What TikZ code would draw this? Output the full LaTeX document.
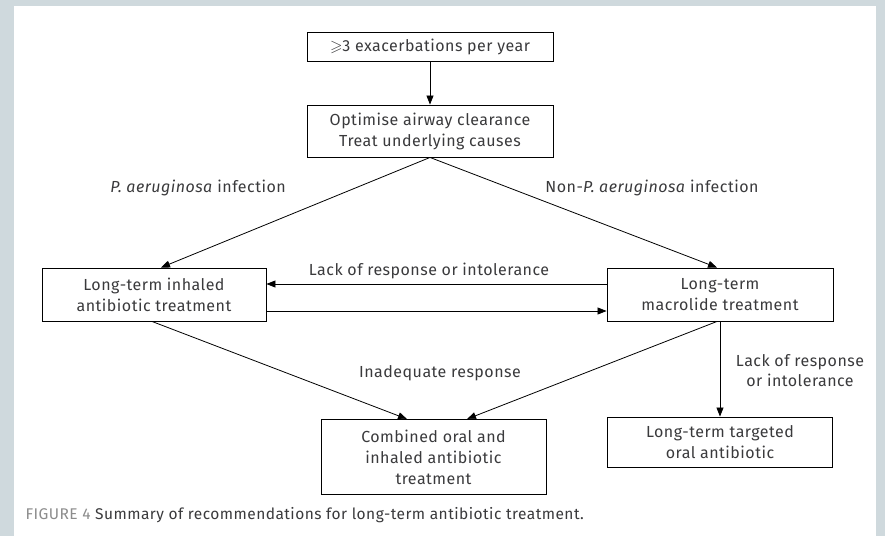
\documentclass[tikz,border=0pt]{standalone}
\usepackage{amssymb}
\usepackage{fontspec}
\setmainfont{Fira Sans}[LetterSpace=3]
\usetikzlibrary{arrows.meta}
\definecolor{panelgrey}{HTML}{CFD9DD}
\definecolor{inkgrey}{HTML}{3A3A3C}
\definecolor{figgrey}{HTML}{8C8C8C}

\begin{document}
\begin{tikzpicture}[x=1pt,y=1pt,
	box/.style={draw=black,line width=0.9pt,fill=white,align=center,inner sep=0pt,text=inkgrey,font=\fontsize{16}{21}\selectfont},
	lbl/.style={text=inkgrey,align=center,font=\fontsize{16}{20}\selectfont},
	arr/.style={line width=0.8pt,-{Triangle[length=9pt,width=7pt]}}]
	\useasboundingbox (0,0) rectangle (885,-536);
	\fill [panelgrey] (0,0) rectangle (885,-536);
	\fill [white] (14,-6) rectangle (876,-536);
	\node [box,minimum width=246,minimum height=29] (freq) at (430,-46.5) {$\geqslant$3 exacerbations per year};
	\node [box,minimum width=246,minimum height=52] (clear) at (430,-131) {Optimise airway clearance\\Treat underlying causes};
	\node [box,minimum width=224,minimum height=53] (inhaled) at (154,-294.5) {Long-term inhaled\\antibiotic treatment};
	\node [box,minimum width=226,minimum height=53] (macro) at (720,-294.5) {Long-term\\macrolide treatment};
	\node [box,minimum width=225,minimum height=75] (combined) at (433.5,-457) {Combined oral and\\inhaled antibiotic\\treatment};
	\node [box,minimum width=225,minimum height=50] (targeted) at (720,-442) {Long-term targeted\\oral antibiotic};
	\node [lbl] (pa) at (198,-188) {\textit{P. aeruginosa} infection};
	\node [lbl] (nonpa) at (652,-188) {Non-\textit{P. aeruginosa} infection};
	\node [lbl] (lack1) at (429,-271) {Lack of response or intolerance};
	\node [lbl] (inadeq) at (440,-373) {Inadequate response};
	\node [lbl] (lack2) at (800,-371) {Lack of response\\or intolerance};
	\node [anchor=west,text=inkgrey,font=\fontsize{15.5}{18}\selectfont] (caption) at (22,-515) {\textcolor{figgrey}{FIGURE 4} Summary of recommendations for long-term antibiotic treatment.};
	\draw [arr] (freq) -- (clear);
	\draw [arr] (clear.south) -- ([xshift=7pt]inhaled.north);
	\draw [arr] (clear.south) -- ([xshift=-3pt]macro.north);
	\draw [arr] ([yshift=10.5pt]macro.west) -- ([yshift=10.5pt]inhaled.east);
	\draw [arr] ([yshift=-16.5pt]inhaled.east) -- ([yshift=-16.5pt]macro.west);
	\draw [arr] ([xshift=-2pt]inhaled.south) -- ([xshift=-26.5pt]combined.north);
	\draw [arr] ([xshift=-3pt]macro.south) -- ([xshift=33.5pt]combined.north);
	\draw [arr] (macro.south) -- (macro.south |- targeted.north);
\end{tikzpicture}
\end{document}
